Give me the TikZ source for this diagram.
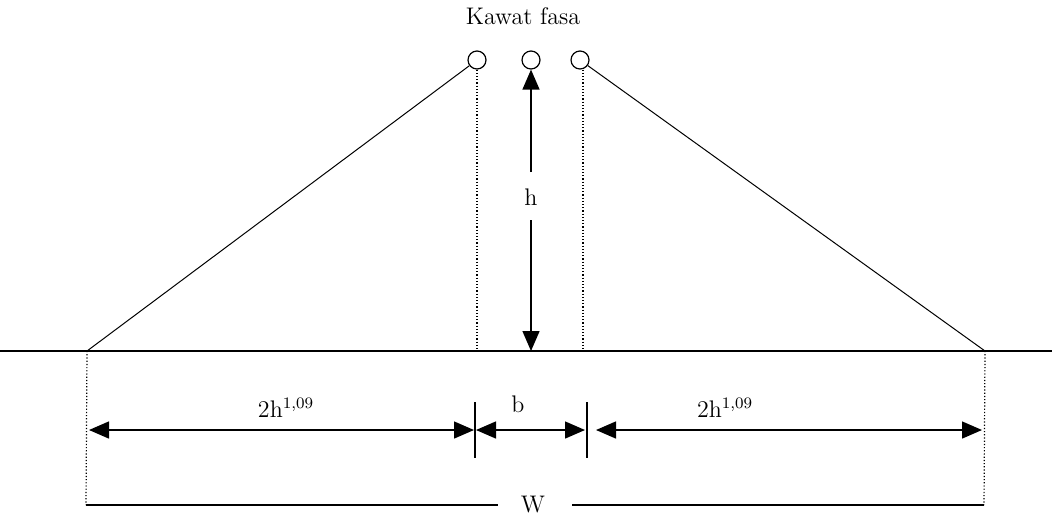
\documentclass[tikz,border=0pt]{standalone}
\usepackage{tikz}
\usetikzlibrary{arrows.meta, positioning}

\tikzset{
    wire/.style={circle, draw, line width=0.6pt, minimum size=9pt, inner sep=0pt},
    guide/.style={densely dotted, line width=0.6pt},
    dimline/.style={line width=0.7pt},
    lbl/.style={font=\fontsize{12}{14}\selectfont, inner sep=1pt}
}

\begin{document}
\begin{tikzpicture}[x=0.5pt, y=-0.5pt, >={Triangle[length=10pt, width=8.5pt]}, line width=0.5pt]
    \useasboundingbox (0,0) rectangle (1052,515);

    % Phase wires
    \node[wire] (wireL) at (477,60) {};
    \node[wire] (wireM) at (531,60) {};
    \node[wire] (wireR) at (580,60) {};
    \node[lbl] (kawat) at (523,16) {Kawat fasa};

    % Ground
    \coordinate (gndW) at (0,351);
    \coordinate (gndE) at (1052,351);
    \coordinate (footL) at (87,351);
    \coordinate (footR) at (985,351);
    \draw[line width=0.8pt] (gndW) -- (gndE);

    % Slopes
    \draw (wireL) -- (footL);
    \draw (wireR) -- (footR);

    % Dotted guides
    \draw[guide] (wireL.south) -- (wireL.south |- gndW);
    \draw[guide] ([xshift=1.5pt]wireR.south) -- ([xshift=1.5pt]wireR.south |- gndW);
    \coordinate (wL) at (86,505);
    \coordinate (wR) at (984,505);
    \draw[guide] (footL) -- (wL);
    \draw[guide] (footR) -- (wR);

    % Height
    \node[lbl] (hlab) at (531,197) {h};
    \coordinate (hbase) at (wireM |- gndW);
    \draw[dimline, ->] (wireM |- 0,172) -- (wireM);
    \draw[dimline, ->] (wireM |- 0,220) -- (hbase);

    % Ticks
    \coordinate (tickA) at (475,402);
    \coordinate (tickB) at (587,402);
    \draw[dimline] (tickA) -- ++(0,56);
    \draw[dimline] (tickB) -- ++(0,56);

    % Widths
    \coordinate (aL) at (89,430);
    \coordinate (aR) at (474,430);
    \coordinate (bL) at (476,430);
    \coordinate (bR) at (585,430);
    \coordinate (cL) at (596,430);
    \coordinate (cR) at (982,430);
    \draw[dimline, <->] (aL) -- (aR);
    \draw[dimline, <->] (bL) -- (bR);
    \draw[dimline, <->] (cL) -- (cR);
    \node[lbl] (sideL) at (286,408) {2h\textsuperscript{1,09}};
    \node[lbl] (gap) at (518,404) {b};
    \node[lbl] (sideR) at (725,408) {2h\textsuperscript{1,09}};

    % Total width
    \node[lbl] (wlab) at (533,505) {W};
    \draw[dimline] (wL) -- (498,505);
    \draw[dimline] (572,505) -- (wR);
\end{tikzpicture}
\end{document}
